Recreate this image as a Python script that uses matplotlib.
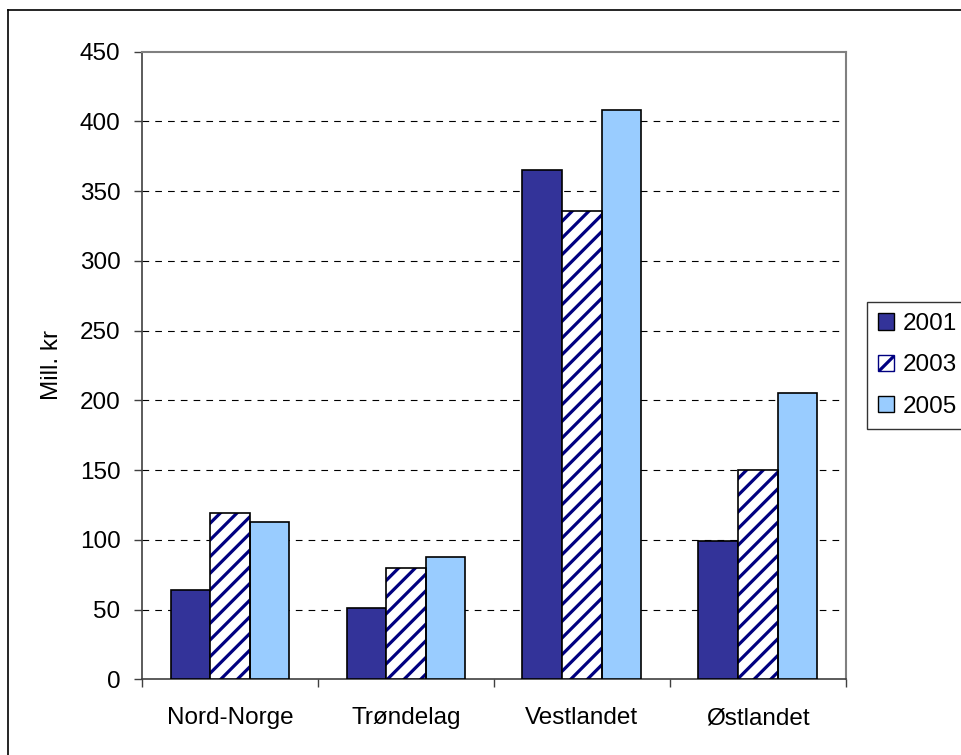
import numpy as np
import matplotlib.pyplot as plt
from matplotlib.lines import Line2D
from matplotlib.patches import Patch

plt.rcParams['font.family'] = ['Liberation Sans', 'DejaVu Sans']
plt.rcParams['hatch.linewidth'] = 2.3

regions = ["Nord-Norge", "Trøndelag", "Vestlandet", "Østlandet"]
years = ["2001", "2003", "2005"]
v2001 = [64, 51, 365, 99]
v2003 = [119, 80, 336, 150]
v2005 = [113, 88, 408, 205]
yticks = [0, 50, 100, 150, 200, 250, 300, 350, 400, 450]

fig = plt.figure(figsize=(9.62, 7.55), dpi=100)
ax = fig.add_axes([0.1476, 0.1003, 0.7315, 0.8312])

fs = 17.5
w = 0.225
x = np.arange(len(regions))

ax.bar(x - w, v2001, w, color="#333399", edgecolor="black", linewidth=1.2, zorder=3)
ax.bar(x, v2003, w, color="white", edgecolor="#000080", hatch="//", linewidth=0, zorder=3)
ax.bar(x, v2003, w, fill=False, edgecolor="black", linewidth=1.2, zorder=4)
ax.bar(x + w, v2005, w, color="#99CCFF", edgecolor="black", linewidth=1.2, zorder=3)

ax.set_xlim(-0.5, len(regions) - 0.5)
ax.set_ylim(0, 450)
ax.set_yticks(yticks)
ax.set_yticklabels([str(t) for t in yticks], fontsize=fs)
ax.set_xticks(x)
ax.set_xticklabels(regions, fontsize=fs)
ax.set_xticks(np.arange(len(regions) + 1) - 0.5, minor=True)
ax.tick_params(axis="x", which="major", length=0, pad=20)
ax.tick_params(axis="x", which="minor", length=6, width=1, color="#404040")
ax.tick_params(axis="y", length=6, width=1, color="#404040", pad=9.5)

# dashed horizontal gridlines between 0 and the top border
for t in yticks[1:-1]:
    ax.axhline(t, color="black", lw=0.8, ls=(0, (6, 5.5)), zorder=1)

for side in ("left", "bottom"):
    ax.spines[side].set_color("#404040")
    ax.spines[side].set_linewidth(1.2)
for side in ("top", "right"):
    ax.spines[side].set_color("#808080")
    ax.spines[side].set_linewidth(1.5)

ax.set_ylabel("Mill. kr", fontsize=fs, labelpad=12)

handles = [
    Patch(facecolor="#333399", edgecolor="black", linewidth=1.0),
    Patch(facecolor="white", edgecolor="#000080", hatch="//", linewidth=1.0),
    Patch(facecolor="#99CCFF", edgecolor="black", linewidth=1.0),
]
leg = fig.legend(handles, years, loc="upper left", bbox_to_anchor=(0.9015, 0.6),
                 fontsize=fs, frameon=True, fancybox=False, edgecolor="black",
                 handlelength=0.65, handleheight=0.65, handletextpad=0.35,
                 labelspacing=0.8, borderpad=0.45, borderaxespad=0)
leg.get_frame().set_linewidth(1.0)

# chart-area frame (left and top edges)
fig.add_artist(Line2D([0.008, 0.008], [0, 0.9871], color="black", lw=1.2,
                      transform=fig.transFigure))
fig.add_artist(Line2D([0.008, 1.0], [0.9871, 0.9871], color="black", lw=1.2,
                      transform=fig.transFigure))

fig.savefig("out.png", dpi=100)
